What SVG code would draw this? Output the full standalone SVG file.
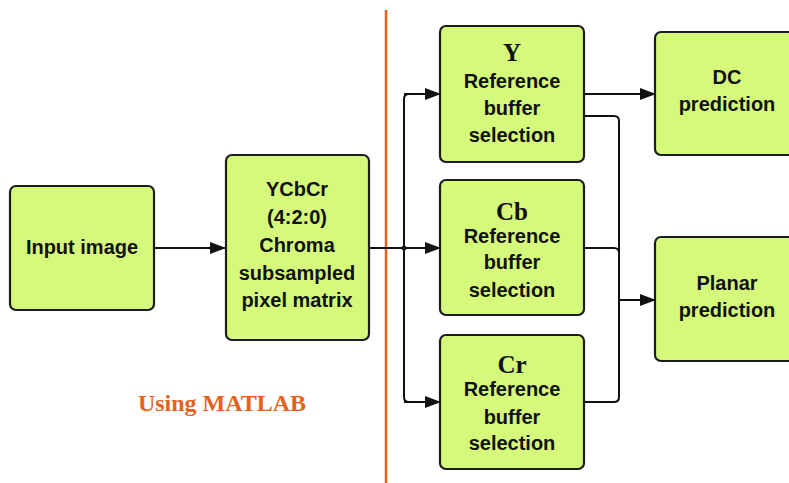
<svg xmlns="http://www.w3.org/2000/svg" width="789" height="483" viewBox="0 0 789 483">
<style>
.box{fill:#d5fa7b;stroke:#1c1c1c;stroke-width:2.2}
.t{font-family:"Liberation Sans",Arial,sans-serif;font-weight:bold;font-size:20px;fill:#111;text-anchor:middle}
.s{font-family:"Liberation Serif","Times New Roman",serif;font-weight:bold;font-size:25px;fill:#111;text-anchor:middle}
.c{fill:none;stroke:#111;stroke-width:2}
</style>
<defs>
<marker id="ah" markerWidth="16" markerHeight="12" refX="15" refY="6" orient="auto" markerUnits="userSpaceOnUse">
<path d="M0,0 L16,6 L0,12 Z" fill="#111"/>
</marker>
</defs>
<rect width="789" height="483" fill="#fff"/>
<line x1="386" y1="10" x2="386" y2="483" stroke="#e5621d" stroke-width="2.5"/>
<text x="222" y="411" font-family="'Liberation Serif','Times New Roman',serif" font-weight="bold" font-size="24" fill="#e5621d" text-anchor="middle">Using MATLAB</text>
<g id="connectors">
<path class="c" d="M154,248 H225" marker-end="url(#ah)"/>
<path class="c" d="M369,248 H440" marker-end="url(#ah)"/>
<path class="c" d="M440,94 H409 Q404,94 404,99 V397 Q404,402 409,402 H440" style="marker-end:none"/>
<path class="c" d="M404,94 H440" marker-end="url(#ah)"/>
<path class="c" d="M404,402 H440" marker-end="url(#ah)"/>
<circle cx="404" cy="248" r="2.5" fill="#111"/>
<path class="c" d="M584,94 H655" marker-end="url(#ah)"/>
<path class="c" d="M584,116 H614 Q619,116 619,121 V397 Q619,402 614,402 H584"/>
<path class="c" d="M584,248 H614 Q619,248 619,253"/>
<path class="c" d="M619,300 H655" marker-end="url(#ah)"/>
</g>
<g id="input"><rect class="box" x="10" y="186" width="144" height="124" rx="6"/><text class="t" x="82" y="254">Input image</text></g>
<g id="ycbcr"><rect class="box" x="226" y="155" width="143" height="185" rx="6"/>
<text class="t" x="297" y="196">YCbCr</text><text class="t" x="297" y="224">(4:2:0)</text><text class="t" x="297" y="252">Chroma</text><text class="t" x="297" y="280">subsampled</text><text class="t" x="297" y="307">pixel matrix</text></g>
<g id="y"><rect class="box" x="440" y="26" width="144" height="136" rx="6"/>
<text class="s" x="512" y="61">Y</text><text class="t" x="512" y="88">Reference</text><text class="t" x="512" y="115">buffer</text><text class="t" x="512" y="142">selection</text></g>
<g id="cb"><rect class="box" x="440" y="180" width="144" height="135" rx="6"/>
<text class="s" x="512" y="220">Cb</text><text class="t" x="512" y="243">Reference</text><text class="t" x="512" y="269">buffer</text><text class="t" x="512" y="297">selection</text></g>
<g id="cr"><rect class="box" x="440" y="335" width="144" height="134" rx="6"/>
<text class="s" x="512" y="373">Cr</text><text class="t" x="512" y="396">Reference</text><text class="t" x="512" y="424">buffer</text><text class="t" x="512" y="450">selection</text></g>
<g id="dc"><rect class="box" x="655" y="32" width="150" height="123" rx="6"/>
<text class="t" x="727" y="84">DC</text><text class="t" x="727" y="111">prediction</text></g>
<g id="planar"><rect class="box" x="655" y="237" width="150" height="124" rx="6"/>
<text class="t" x="727" y="290">Planar</text><text class="t" x="727" y="317">prediction</text></g>
</svg>
